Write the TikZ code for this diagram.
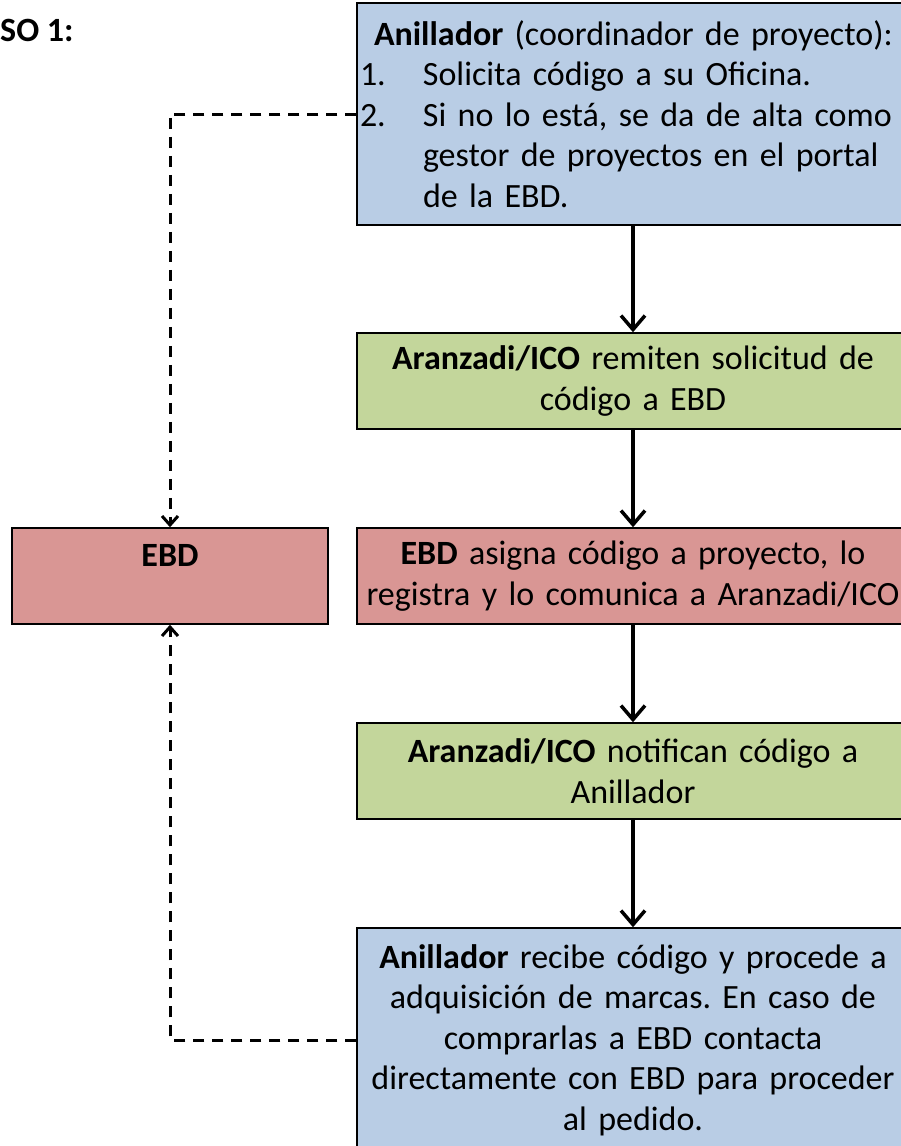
\documentclass[tikz,border=0pt]{standalone}
\usepackage{fontspec}
\setmainfont{Carlito}
\usetikzlibrary{arrows.meta}
\definecolor{azul}{HTML}{B9CDE5}
\definecolor{verde}{HTML}{C3D69B}
\definecolor{rojo}{HTML}{D99694}
\tikzset{x=1pt, y=-1pt,
  caja/.style={draw=black, line width=1.5pt, minimum width=552pt, text width=540pt, align=center, inner xsep=6pt, inner ysep=0pt},
  flecha/.style={line width=3.5pt, -{Straight Barb[length=14pt,width=24pt]}},
  discont/.style={line width=3pt, dash pattern=on 11pt off 8pt, -{Straight Barb[length=9pt,width=16pt]}}}

\begin{document}
\begin{tikzpicture}[font=\fontsize{34}{40.5}\selectfont\frenchspacing]

           \useasboundingbox (0,0) rectangle (901,1146);
           \clip (0,0) rectangle (901,1146);

           \node (paso) [anchor=west, inner sep=0pt] at (0,30) {\textbf{SO 1:}};

           \node (An) [caja, fill=azul, minimum height=222pt, text width=552pt, inner xsep=0pt, align=left] at (633,114)
             {\hspace*{17pt}\textbf{Anillador} (coordinador de proyecto):\\
              \makebox[66pt][l]{\hspace*{3pt}1.}Solicita código a su Oficina.\\
              \makebox[66pt][l]{\hspace*{3pt}2.}Si no lo está, se da de alta como\\
              \hspace*{66pt}gestor de proyectos en el portal\\
              \hspace*{66pt}de la EBD.};
           \node (Ar) [caja, fill=verde, minimum height=96pt] at (633,381)
             {\textbf{Aranzadi/ICO} remiten solicitud de\\ código a EBD};
           \node (Eb) [caja, fill=rojo, minimum height=96pt] at (633,576)
             {\textbf{EBD} asigna código a proyecto, lo\\ registra y lo comunica a Aranzadi/ICO};
           \node (No) [caja, fill=verde, minimum height=96pt] at (633,771)
             {\textbf{Aranzadi/ICO} notifican código a\\ Anillador};
           \node (Re) [caja, fill=azul, minimum height=224pt] at (633,1040)
             {\textbf{Anillador} recibe código y procede a\\ adquisición de marcas. En caso de\\ comprarlas a EBD contacta\\ directamente con EBD para proceder\\ al pedido.};
           \node (EBD) [caja, fill=rojo, minimum width=316pt, text width=300pt, minimum height=96pt] at (170,576)
             {\textbf{EBD}\\ ~};

           \draw[flecha] (An) to (Ar);
           \draw[flecha] (Ar) to (Eb);
           \draw[flecha] (Eb) to (No);
           \draw[flecha] (No) to (Re);
           \draw[discont] (An.west) -| (EBD.north);
           \draw[discont] (Re.west) -| (EBD.south);

         \end{tikzpicture}
\end{document}
